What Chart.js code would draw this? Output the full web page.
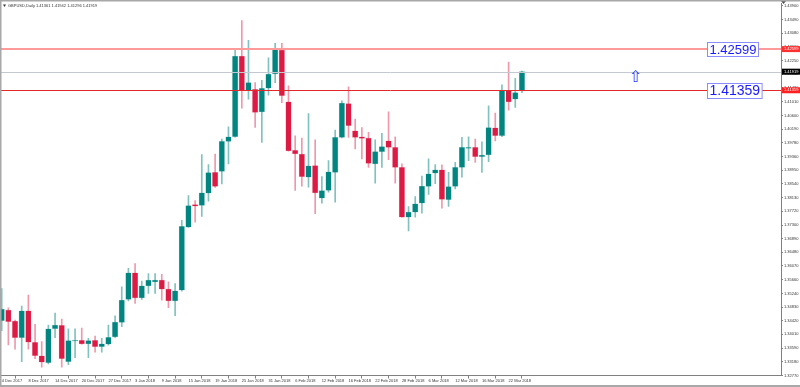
<!DOCTYPE html>
<html>
<head>
<meta charset="utf-8">
<script src="https://cdn.jsdelivr.net/npm/chart.js@4.4.1/dist/chart.umd.min.js"></script>
<style>
  html, body { margin: 0; padding: 0; background: #fff; }
  #wrap { position: relative; width: 800px; height: 387px; }
</style>
</head>
<body>
<div id="wrap"><canvas id="chart" width="800" height="387"></canvas></div>
<script>
// GBPUSD daily candles, 4 Dec 2017 .. 23 Mar 2018
const symbolTitle = "GBPUSD,Daily 1.41361 1.41942 1.41296 1.41919";

const dateLabels = [
  "4 Dec 2017", "8 Dec 2017", "14 Dec 2017", "20 Dec 2017", "27 Dec 2017",
  "3 Jan 2018", "9 Jan 2018", "15 Jan 2018", "19 Jan 2018", "25 Jan 2018",
  "31 Jan 2018", "6 Feb 2018", "12 Feb 2018", "16 Feb 2018", "22 Feb 2018",
  "28 Feb 2018", "6 Mar 2018", "12 Mar 2018", "16 Mar 2018", "22 Mar 2018"
];
const barsPerLabel = 4;

const opens = [
  1.34419, 1.34740, 1.34410, 1.33909, 1.34719, 1.33771, 1.33360, 1.33159, 1.34179, 1.34281,
  1.33189, 1.33801, 1.33831, 1.33720, 1.33831, 1.33639, 1.33711, 1.33930, 1.34371, 1.35061,
  1.35859, 1.35109, 1.35469, 1.35589, 1.35640, 1.35370, 1.35019, 1.35340, 1.37239, 1.37920,
  1.37890, 1.38259, 1.38889, 1.38919, 1.39819, 1.39960, 1.42390, 1.41361, 1.41391, 1.40710,
  1.41421, 1.41850, 1.42570, 1.41010, 1.39549, 1.39441, 1.38739, 1.39090, 1.38109, 1.38340,
  1.38889, 1.39939, 1.40959, 1.40140, 1.39960, 1.39921, 1.39141, 1.39510, 1.39840, 1.39639,
  1.39039, 1.37539, 1.37689, 1.37959, 1.38460, 1.38859, 1.38961, 1.38061, 1.38460, 1.39039,
  1.39609, 1.39639, 1.39360, 1.39411, 1.40230, 1.39990, 1.41361, 1.41089, 1.41340
];
const highs = [
  1.35391, 1.34809, 1.34440, 1.34860, 1.35190, 1.34311, 1.33789, 1.34290, 1.34650, 1.34470,
  1.34179, 1.34179, 1.34200, 1.33889, 1.33960, 1.33889, 1.34290, 1.34569, 1.35439, 1.36000,
  1.36141, 1.35610, 1.35841, 1.35841, 1.35820, 1.35589, 1.35541, 1.37440, 1.38190, 1.38040,
  1.39420, 1.39120, 1.39441, 1.39891, 1.40260, 1.42609, 1.43461, 1.42861, 1.41589, 1.41661,
  1.42339, 1.42771, 1.42771, 1.41490, 1.39990, 1.39921, 1.40659, 1.39870, 1.38760, 1.39240,
  1.40161, 1.41040, 1.41460, 1.40491, 1.40239, 1.40089, 1.39870, 1.40059, 1.40710, 1.39960,
  1.39141, 1.37860, 1.38160, 1.38775, 1.39291, 1.39120, 1.39111, 1.38889, 1.39189, 1.39939,
  1.39960, 1.39891, 1.39810, 1.40890, 1.40671, 1.41520, 1.42210, 1.41721, 1.41940
];
const lows = [
  1.34119, 1.33690, 1.33561, 1.33189, 1.33561, 1.33279, 1.33021, 1.33120, 1.33909, 1.33021,
  1.33099, 1.33309, 1.33711, 1.33309, 1.33471, 1.33471, 1.33681, 1.33909, 1.34239, 1.35019,
  1.34941, 1.35061, 1.35241, 1.35241, 1.35040, 1.34809, 1.34569, 1.35310, 1.37230, 1.37389,
  1.37560, 1.38019, 1.38430, 1.38541, 1.39141, 1.39945, 1.40821, 1.41091, 1.40239, 1.39789,
  1.41211, 1.41589, 1.40989, 1.39525, 1.38340, 1.38469, 1.38439, 1.37641, 1.37959, 1.38289,
  1.37989, 1.39921, 1.39939, 1.39591, 1.39291, 1.39039, 1.38559, 1.39039, 1.39270, 1.38559,
  1.37530, 1.37125, 1.37539, 1.37659, 1.38220, 1.38550, 1.37809, 1.37860, 1.38391, 1.38739,
  1.39240, 1.39189, 1.38889, 1.39210, 1.39831, 1.39960, 1.40761, 1.40839, 1.41289
];
const closes = [
  1.34770, 1.34389, 1.33909, 1.34719, 1.33771, 1.33369, 1.33171, 1.34179, 1.34290, 1.33279,
  1.33819, 1.33831, 1.33720, 1.33819, 1.33639, 1.33720, 1.33921, 1.34380, 1.35040, 1.35859,
  1.35109, 1.35469, 1.35640, 1.35640, 1.35370, 1.35019, 1.35319, 1.37260, 1.37890, 1.37869,
  1.38271, 1.38880, 1.38460, 1.39819, 1.39960, 1.42390, 1.41361, 1.41589, 1.40689, 1.41421,
  1.41850, 1.42591, 1.41199, 1.39531, 1.39441, 1.38760, 1.39081, 1.38271, 1.38340, 1.38901,
  1.39939, 1.40971, 1.40290, 1.39939, 1.39909, 1.39159, 1.39510, 1.39660, 1.39639, 1.39039,
  1.37539, 1.37689, 1.37941, 1.38475, 1.38841, 1.38961, 1.38070, 1.38460, 1.39039, 1.39639,
  1.39639, 1.39360, 1.39411, 1.40239, 1.39990, 1.41361, 1.41010, 1.41289, 1.41919
];

const priceTicks = [
  1.32770, 1.33180, 1.33590, 1.34010, 1.34420, 1.34830, 1.35240, 1.35660, 1.36070, 1.36480,
  1.36890, 1.37300, 1.37720, 1.38130, 1.38540, 1.38950, 1.39360, 1.39780, 1.40190, 1.40600,
  1.41010, 1.41430, 1.41840, 1.42250, 1.42660, 1.43080, 1.43490, 1.43900
];

const resistance = 1.42599;
const support = 1.41359;
const bidPrice = closes[closes.length - 1];
const arrowMark = { bar: 95, price: 1.4172 };

const upColor = "#008580";
const downColor = "#dc1a44";
const upWick = "rgba(0,133,128,0.5)";
const downWick = "rgba(220,26,68,0.45)";
const smallFont = { family: "Liberation Sans", size: 4 };

const isUp = opens.map((o, i) => closes[i] >= o);

const overlay = {
  id: "overlay",
  beforeDraw(chart) {
    const ctx = chart.ctx;
    ctx.save();
    ctx.fillStyle = "#ffffff";
    ctx.fillRect(0, 0, chart.width, chart.height);
    ctx.restore();
  },
  afterDatasetsDraw(chart) {
    const ctx = chart.ctx;
    const area = chart.chartArea;
    const y = chart.scales.y;
    const x = chart.scales.x;

    ctx.save();
    // bid line
    let py = Math.round(y.getPixelForValue(bidPrice)) + 0.5;
    ctx.strokeStyle = "#c4c8d0";
    ctx.lineWidth = 1;
    ctx.beginPath(); ctx.moveTo(area.left, py); ctx.lineTo(area.right, py); ctx.stroke();

    // resistance line
    py = y.getPixelForValue(resistance);
    ctx.strokeStyle = "#ff9a9a";
    ctx.lineWidth = 2;
    ctx.beginPath(); ctx.moveTo(area.left, py); ctx.lineTo(area.right, py); ctx.stroke();

    // support line
    py = Math.round(y.getPixelForValue(support)) + 0.5;
    ctx.strokeStyle = "#e42828";
    ctx.lineWidth = 1;
    ctx.beginPath(); ctx.moveTo(area.left, py); ctx.lineTo(area.right, py); ctx.stroke();

    // price boxes
    const box = (val, size) => {
      const txt = val.toFixed(5);
      ctx.font = size + "px 'Liberation Sans'";
      const w = ctx.measureText(txt).width;
      const cy = y.getPixelForValue(val);
      const h = size + 1;
      const bx = 707.5;
      ctx.fillStyle = "#ffffff";
      ctx.fillRect(bx, cy - h / 2, w + 4, h);
      ctx.strokeStyle = "#8c8cff";
      ctx.lineWidth = 1;
      ctx.strokeRect(bx, Math.round(cy - h / 2) + 0.5, w + 4, h);
      ctx.fillStyle = "#1a1aff";
      ctx.textBaseline = "middle";
      ctx.textAlign = "left";
      ctx.fillText(txt, bx + 2, cy + 1);
    };
    box(resistance, 13);
    box(support, 14);

    // arrow
    ctx.font = "16px 'DejaVu Sans'";
    ctx.fillStyle = "#2a3cff";
    ctx.textAlign = "center";
    ctx.textBaseline = "middle";
    ctx.fillText("\u21E7", x.getPixelForValue(arrowMark.bar), y.getPixelForValue(arrowMark.price));
    ctx.restore();
  },
  afterDraw(chart) {
    const ctx = chart.ctx;
    const area = chart.chartArea;
    const y = chart.scales.y;
    ctx.save();
    const tag = (val, bg) => {
      const cy = y.getPixelForValue(val);
      ctx.fillStyle = bg;
      ctx.fillRect(area.right + 1, cy - 3, chart.width - area.right - 1, 6);
      ctx.fillStyle = "#ffffff";
      ctx.font = "4px 'Liberation Sans'";
      ctx.textBaseline = "middle";
      ctx.textAlign = "left";
      ctx.fillText(val.toFixed(5), area.right + 3, cy);
    };
    tag(resistance, "#ff3030");
    tag(bidPrice, "#000000");
    tag(support, "#ff2020");

    // title
    ctx.fillStyle = "#333333";
    ctx.font = "4px 'Liberation Sans'";
    ctx.textBaseline = "middle";
    ctx.textAlign = "left";
    ctx.fillText(symbolTitle, 8, 6);
    ctx.beginPath();
    ctx.moveTo(3, 4.5); ctx.lineTo(6, 4.5); ctx.lineTo(4.5, 7); ctx.closePath();
    ctx.fill();
    // shift marker on top
    ctx.fillStyle = "#505050";
    ctx.beginPath();
    ctx.moveTo(781, 1); ctx.lineTo(786, 1); ctx.lineTo(783.5, 4); ctx.closePath();
    ctx.fill();

    // window frame
    ctx.fillStyle = "#a8a8a8";
    ctx.fillRect(0, 0, chart.width, 1.5);
    ctx.fillRect(0, 0, 1.5, chart.height);
    ctx.fillRect(0, 385, chart.width, 2);
    ctx.restore();
  }
};

new Chart(document.getElementById("chart").getContext("2d"), {
  type: "bar",
  data: {
    datasets: [
      {
        label: "body",
        data: opens.map((o, i) => ({ x: i, y: [o, closes[i]] })),
        backgroundColor: isUp.map(u => u ? upColor : downColor),
        borderColor: isUp.map(u => u ? "rgba(0,133,128,0.35)" : "rgba(220,26,68,0.35)"),
        borderWidth: 0.5,
        borderSkipped: false,
        barThickness: 5.5,
        minBarLength: 1,
        grouped: false,
        order: 1
      },
      {
        label: "wick",
        data: opens.map((o, i) => ({ x: i, y: [lows[i], highs[i]] })),
        backgroundColor: isUp.map(u => u ? upWick : downWick),
        barThickness: 1,
        grouped: false,
        order: 2
      }
    ]
  },
  options: {
    responsive: false,
    animation: false,
    events: [],
    layout: { padding: { top: 2, left: 0, right: 0, bottom: 0 } },
    plugins: { legend: { display: false }, tooltip: { enabled: false } },
    scales: {
      x: {
        type: "linear",
        min: -0.255,
        max: 116.84,
        offset: false,
        afterFit: s => { s.height = 11.5; },
        afterBuildTicks: s => {
          s.ticks = dateLabels.map((_, k) => ({ value: k * barsPerLabel }));
        },
        ticks: {
          callback: v => dateLabels[v / barsPerLabel],
          font: smallFont,
          color: "#333333",
          padding: 0,
          align: "start",
          maxRotation: 0,
          autoSkip: false
        },
        grid: { drawOnChartArea: false, drawTicks: true, tickLength: 3, color: "#808080" },
        border: { display: true, color: "#808080" }
      },
      y: {
        position: "right",
        min: 1.3277,
        max: 1.43975,
        afterFit: s => { s.width = 19; },
        afterBuildTicks: s => {
          s.ticks = priceTicks.map(v => ({ value: v }));
        },
        ticks: {
          callback: v => v.toFixed(5),
          font: smallFont,
          color: "#333333",
          padding: 1,
          autoSkip: false
        },
        grid: { drawOnChartArea: false, drawTicks: true, tickLength: 2, color: "#808080" },
        border: { display: true, color: "#808080" }
      }
    }
  },
  plugins: [overlay]
});
</script>
</body>
</html>
